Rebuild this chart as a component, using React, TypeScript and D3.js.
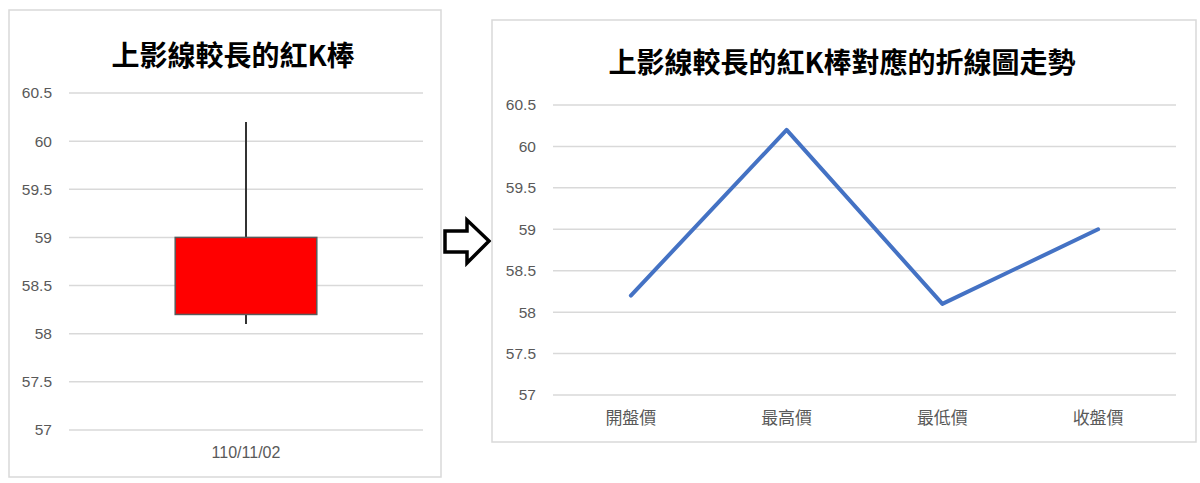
import * as d3 from 'd3';

// Candle (left chart)
const candleDates = ['110/11/02'];
const candleOpen = [58.2];
const candleHigh = [60.2];
const candleLow = [58.1];
const candleClose = [59.0];

// Line (right chart)
const lineCategories = ['開盤價', '最高價', '最低價', '收盤價'];
const lineValues = [58.2, 60.2, 58.1, 59.0];

const yTicks = [57, 57.5, 58, 58.5, 59, 59.5, 60, 60.5];

const leftTitle = '上影線較長的紅K棒';
const rightTitle = '上影線較長的紅K棒對應的折線圖走勢';

const GRID = '#d9d9d9';
const LABEL = '#595959';
const NUM_FONT = '"Liberation Sans", Arial, sans-serif';
const CJK_FONT = '"Noto Sans CJK TC", "Noto Sans CJK SC", sans-serif';

function YAxis({ y, x0, x1, labelX }: { y: d3.ScaleLinear<number, number>; x0: number; x1: number; labelX: number }) {
    return (
        <g>
            {yTicks.map((t) => (
                <g key={t}>
                    <line x1={x0} x2={x1} y1={y(t)} y2={y(t)} stroke={GRID} strokeWidth={1.5} />
                    <text x={labelX} y={y(t)} dy="0.35em" textAnchor="end" fontSize={15.5} fill={LABEL} fontFamily={NUM_FONT}>
                        {d3.format('')(t)}
                    </text>
                </g>
            ))}
        </g>
    );
}

function CandleChart() {
    const x0 = 69, x1 = 423;
    const y = d3.scaleLinear().domain([57, 60.5]).range([430, 93]);
    const x = d3.scaleBand().domain(candleDates).range([x0, x1]).padding(0);
    const bodyW = x.bandwidth() * 0.4;

    return (
        <g>
            <rect x={9} y={10} width={432} height={467} fill="#fff" stroke={GRID} strokeWidth={1.5} />
            <text x={233} y={54} textAnchor="middle" dominantBaseline="central" fontSize={28} fontWeight="bold" fontFamily={CJK_FONT} fill="#000">
                {leftTitle}
            </text>
            <YAxis y={y} x0={x0} x1={x1} labelX={52} />
            {candleDates.map((d, i) => {
                const cx = (x(d) ?? 0) + x.bandwidth() / 2;
                const top = y(Math.max(candleOpen[i], candleClose[i]));
                const bot = y(Math.min(candleOpen[i], candleClose[i]));
                return (
                    <g key={d}>
                        <line x1={cx} x2={cx} y1={y(candleHigh[i])} y2={y(candleLow[i])} stroke="#333" strokeWidth={2} />
                        <rect x={cx - bodyW / 2} y={top} width={bodyW} height={bot - top} fill="#ff0000" stroke="#5a5a5a" strokeWidth={1.5} />
                        <text x={cx} y={452} dy="0.35em" textAnchor="middle" fontSize={16} fill={LABEL} fontFamily={NUM_FONT}>
                            {d}
                        </text>
                    </g>
                );
            })}
        </g>
    );
}

function LineChart() {
    const x0 = 553, x1 = 1176;
    const y = d3.scaleLinear().domain([57, 60.5]).range([395, 105]);
    const x = d3.scaleBand().domain(lineCategories).range([x0, x1]).padding(0);
    const cx = (c: string) => (x(c) ?? 0) + x.bandwidth() / 2;
    const line = d3.line<number>()
        .x((_, i) => cx(lineCategories[i]))
        .y((v) => y(v));

    return (
        <g>
            <rect x={492} y={20} width={704} height={422} fill="#fff" stroke={GRID} strokeWidth={1.5} />
            <text x={842} y={61} textAnchor="middle" dominantBaseline="central" fontSize={28} fontWeight="bold" fontFamily={CJK_FONT} fill="#000">
                {rightTitle}
            </text>
            <YAxis y={y} x0={x0} x1={x1} labelX={536} />
            <path d={line(lineValues) ?? ''} fill="none" stroke="#4472c4" strokeWidth={4} strokeLinejoin="round" strokeLinecap="round" />
            {lineCategories.map((c) => (
                <text key={c} x={cx(c)} y={418} dy="0.35em" textAnchor="middle" fontSize={17} fill={LABEL} fontFamily={CJK_FONT}>
                    {c}
                </text>
            ))}
        </g>
    );
}

function Arrow() {
    // outlined right arrow between the two charts
    const pts: [number, number][] = [
        [445, 231], [467, 231], [467, 220], [489, 241], [467, 263], [467, 252], [445, 252],
    ];
    return <polygon points={pts.map((p) => p.join(',')).join(' ')} fill="#fff" stroke="#000" strokeWidth={3.5} strokeLinejoin="miter" />;
}

export default function App() {
    return (
        <div style={{ position: 'absolute', left: 0, top: 0, width: 1200, height: 483, background: '#fff' }}>
            <svg width={1200} height={483} viewBox="0 0 1200 483" style={{ display: 'block' }}>
                <rect width={1200} height={483} fill="#fff" />
                <CandleChart />
                <Arrow />
                <LineChart />
            </svg>
        </div>
    );
}
